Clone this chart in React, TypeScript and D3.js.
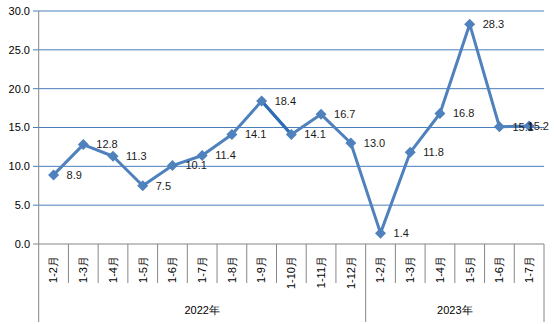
import React from "react";
import * as d3 from "d3";

const months = ["1-2月","1-3月","1-4月","1-5月","1-6月","1-7月","1-8月","1-9月","1-10月","1-11月","1-12月","1-2月","1-3月","1-4月","1-5月","1-6月","1-7月"];
const values = [8.9, 12.8, 11.3, 7.5, 10.1, 11.4, 14.1, 18.4, 14.1, 16.7, 13.0, 1.4, 11.8, 16.8, 28.3, 15.1, 15.2];
const years = ["2022年", "2023年"];
const yearCounts = [11, 6];
const yTicks = [0, 5, 10, 15, 20, 25, 30];

export default function App() {
  const W = 554, H = 324;
  const left = 38.7, right = 544, top = 11, bottom = 244;
  const x = d3.scaleBand<number>().domain(d3.range(months.length)).range([left, right]).padding(0);
  const y = d3.scaleLinear().domain([0, 30]).range([bottom, top]);
  const cx = (i: number) => (x(i) as number) + x.bandwidth() / 2;
  const line = d3.line<number>().x((_, i) => cx(i)).y((d) => y(d));
  const r = 5.5;
  const diamond = `M0,${-r}L${r},0L0,${r}L${-r},0Z`;
  const font = "'Liberation Sans', Arial, sans-serif";
  const lineColor = "#4f81bd";
  const grid = "#4a7ebb";
  const axisColor = "#868686";

  const groupBounds: number[] = [0];
  yearCounts.forEach((c) => groupBounds.push(groupBounds[groupBounds.length - 1] + c));
  const bx = (k: number) => (k >= months.length ? right : (x(k) as number));

  return (
    <svg width={W} height={H} style={{ position: "absolute", left: 0, top: 0 }}>
      <rect width={W} height={H} fill="#fff" />
      {yTicks.map((t) => (
        <g key={t}>
          {t > 0 && <line x1={33} x2={right} y1={y(t)} y2={y(t)} stroke={grid} strokeWidth={1} />}
          {t === 0 && <line x1={33} x2={left} y1={y(t)} y2={y(t)} stroke={axisColor} strokeWidth={1} />}
          <text x={30} y={y(t)} dy="0.35em" textAnchor="end" fontFamily={font} fontSize={11} fill="#000">
            {t.toFixed(1)}
          </text>
        </g>
      ))}
      <line x1={left} x2={left} y1={top} y2={bottom} stroke={axisColor} strokeWidth={1} />
      <line x1={left} x2={right} y1={bottom} y2={bottom} stroke={axisColor} strokeWidth={1} />
      {d3.range(months.length + 1).map((k) => {
        const isGroup = groupBounds.includes(k);
        return (
          <line key={k} x1={bx(k)} x2={bx(k)} y1={bottom} y2={isGroup ? 322 : 283} stroke={axisColor} strokeWidth={1} />
        );
      })}
      {months.map((m, i) => (
        <text key={i} transform={`translate(${cx(i)},${256}) rotate(-90)`} textAnchor="end" dy="0.35em"
          fontFamily={font} fontSize={11} fill="#000">{m}</text>
      ))}
      {years.map((yr, gi) => (
        <text key={yr} x={(bx(groupBounds[gi]) + bx(groupBounds[gi + 1])) / 2} y={310} dy="0.35em"
          textAnchor="middle" fontFamily={font} fontSize={11} fill="#000">{yr}</text>
      ))}
      <path d={line(values) || ""} fill="none" stroke={lineColor} strokeWidth={3} strokeLinejoin="round" />
      <line x1={cx(7)} y1={y(values[7])} x2={cx(8)} y2={y(values[8])} stroke="#2e6db4" strokeWidth={3} />
      {values.map((v, i) => (
        <path key={i} d={diamond} transform={`translate(${cx(i)},${y(v)})`} fill={lineColor} />
      ))}
      {values.map((v, i) => {
        const last = i === values.length - 1;
        return (
          <text key={"l" + i} x={last ? 549 : cx(i) + 13} y={y(v)} dy="0.35em" textAnchor={last ? "end" : "start"}
            fontFamily={font} fontSize={11} fill="#1a1a1a">
            {v.toFixed(1)}
          </text>
        );
      })}
    </svg>
  );
}
